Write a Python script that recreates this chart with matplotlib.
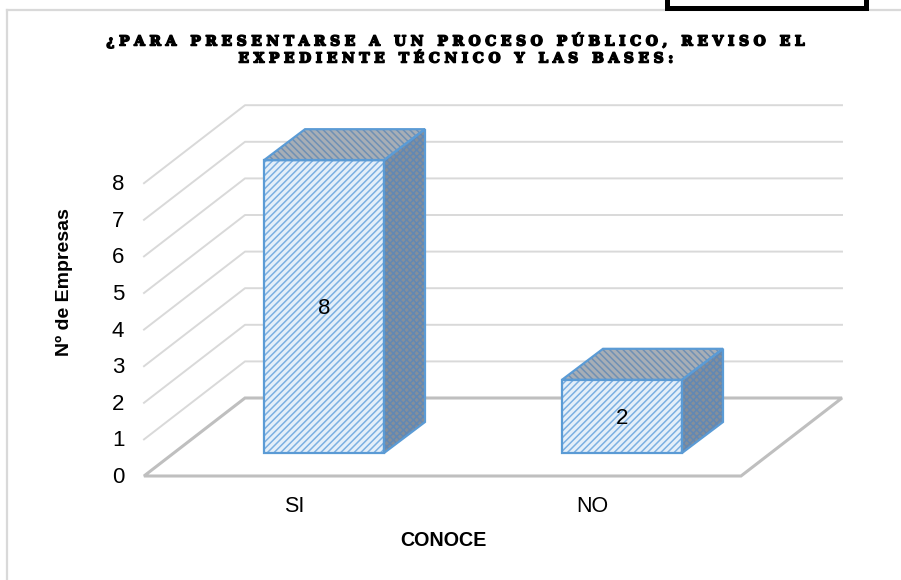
#!/usr/bin/env python3
"""3D-look column chart: Nº de Empresas by CONOCE."""

import matplotlib
matplotlib.use('Agg')
import matplotlib.pyplot as plt
import matplotlib.patheffects as pe
from matplotlib.patches import Polygon, Rectangle

categories = ["SI", "NO"]
values = [8, 2]
y_ticks = [0, 1, 2, 3, 4, 5, 6, 7, 8]
title_lines = ["¿PARA PRESENTARSE A UN PROCESO PÚBLICO, REVISO EL",
               "EXPEDIENTE TÉCNICO Y LAS BASES:"]

# projection, in pixels of the 901x580 picture
FLOOR_Y = 476
UNIT = 36.6
FLOOR_X = (144, 741)
WALL = (101, -78)
BAR_BASE_Y = 453
BAR_X = [264, 562]
BAR_W = 120
BAR_DEPTH = (41, -31)

EDGE = "#5b9bd5"
LETTER_GAP = "\u2004"


def spaced(s):
    return LETTER_GAP.join(s)


def face(ax, pts, fill, hatch_color, hatch):
    # hatch and outline need different colours, so two patches
    ax.add_patch(Polygon(pts, closed=True, fc=fill, ec=hatch_color, lw=0, hatch=hatch, zorder=3))
    ax.add_patch(Polygon(pts, closed=True, fc="none", ec=EDGE, lw=1.6, zorder=4))


plt.rcParams["hatch.linewidth"] = 1.1
LABEL_FONT = "Liberation Sans"

fig = plt.figure(figsize=(9.01, 5.80), dpi=100)
ax = fig.add_axes([0, 0, 1, 1])
ax.set_xlim(0, 901)
ax.set_ylim(580, 0)
ax.axis("off")

# picture frame
ax.plot([7, 7], [10, 580], color="#d9d9d9", lw=1.6)
ax.plot([7, 901], [10, 10], color="#d9d9d9", lw=1.6)
ax.add_patch(Rectangle((667, -6), 199, 14, fc="white", ec="black", lw=3.6, zorder=3))

# gridlines: left wall and back wall
for t in y_ticks[1:]:
    y = FLOOR_Y - t * UNIT
    ax.plot([FLOOR_X[0], FLOOR_X[0] + WALL[0], FLOOR_X[1] + WALL[0]],
            [y, y + WALL[1], y + WALL[1]], color="#d9d9d9", lw=1.4)

# floor
ax.add_patch(Polygon([(FLOOR_X[0], FLOOR_Y), (FLOOR_X[1], FLOOR_Y),
                      (FLOOR_X[1] + WALL[0], FLOOR_Y + WALL[1]),
                      (FLOOR_X[0] + WALL[0], FLOOR_Y + WALL[1])],
                     closed=True, fc="none", ec="#bfbfbf", lw=2.2, zorder=2))

for t in y_ticks:
    ax.text(118, FLOOR_Y - t * UNIT + 1.5, str(t), ha="center", va="center",
            fontsize=16, family=LABEL_FONT)

# bars
for x0, v, cat in zip(BAR_X, values, categories):
    top = BAR_BASE_Y - v * UNIT
    x1 = x0 + BAR_W
    dx, dy = BAR_DEPTH
    face(ax, [(x0, top), (x1, top), (x1 + dx, top + dy), (x0 + dx, top + dy)],
         "#a7aeb6", "#6f90b4", "\\\\\\\\\\")
    face(ax, [(x1, top), (x1 + dx, top + dy), (x1 + dx, BAR_BASE_Y + dy), (x1, BAR_BASE_Y)],
         "#858f9a", "#6288b4", "xxxxx")
    face(ax, [(x0, top), (x1, top), (x1, BAR_BASE_Y), (x0, BAR_BASE_Y)],
         "#e4eff9", "#7cb0e2", "/////")
    ax.text(x0 + BAR_W / 2, (top + BAR_BASE_Y) / 2 + 2, str(v), ha="center", va="center",
            fontsize=16, family=LABEL_FONT, zorder=5)
    ax.text(x0 + 30, 506, cat, ha="center", va="center", fontsize=15.5, family=LABEL_FONT)

ax.text(443, 541, "CONOCE", ha="center", va="center", fontsize=14.2, fontweight="bold",
        family=LABEL_FONT)
ax.text(64, 282, "Nº de Empresas", ha="center", va="center", rotation=90,
        fontsize=14, fontweight="bold", family=LABEL_FONT)

for y, line in zip([40, 58.5], title_lines):
    ax.text(457, y, spaced(line), ha="center", va="center", fontsize=10,
            fontweight="bold", family="DejaVu Serif",
            path_effects=[pe.withStroke(linewidth=1.1, foreground="black")])

fig.savefig("out.png", dpi=100)
